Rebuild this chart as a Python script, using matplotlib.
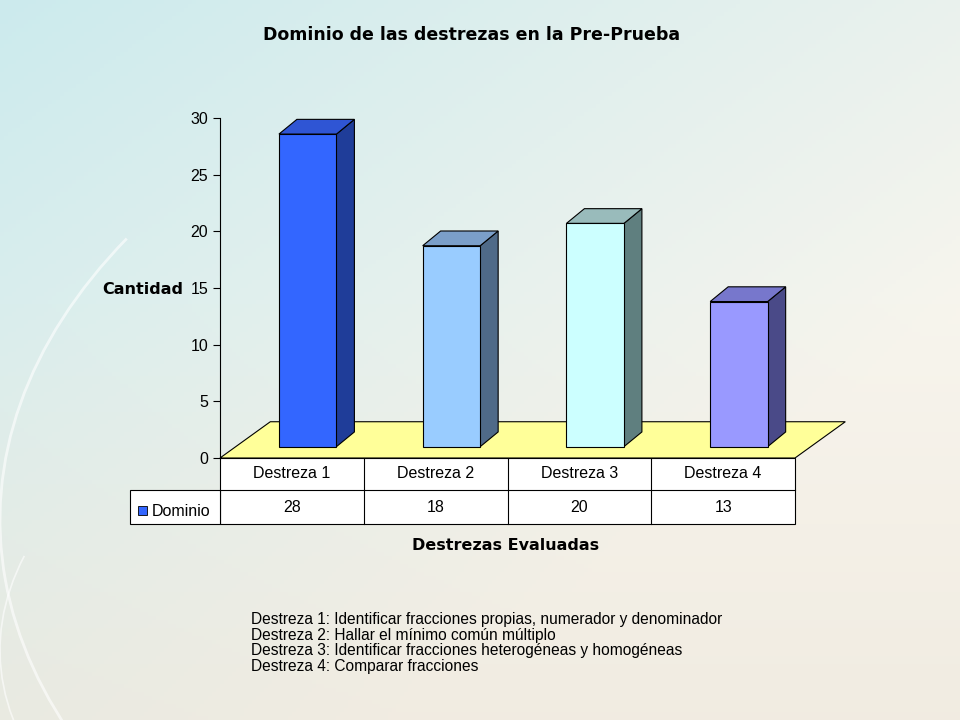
import numpy as np
import matplotlib
matplotlib.use("Agg")
import matplotlib.pyplot as plt
from matplotlib.patches import Polygon, Rectangle, Arc

plt.rcParams["font.family"] = "Liberation Sans"

title = "Dominio de las destrezas en la Pre-Prueba"
categories = ["Destreza 1", "Destreza 2", "Destreza 3", "Destreza 4"]
values = [28, 18, 20, 13]
series_name = "Dominio"
y_ticks = [0, 5, 10, 15, 20, 25, 30]
y_label = "Cantidad"
x_label = "Destrezas Evaluadas"
notes = ["Destreza 1: Identificar fracciones propias, numerador y denominador",
         "Destreza 2: Hallar el mínimo común múltiplo",
         "Destreza 3: Identificar fracciones heterogéneas y homogéneas",
         "Destreza 4: Comparar fracciones"]
front_c = ["#3366FF", "#99CCFF", "#CCFFFF", "#9999FF"]
side_c = ["#1F3D99", "#4F6A88", "#5F7F7F", "#4A4A88"]
top_c = ["#2F55D4", "#7B9FC9", "#99BBBB", "#7777CC"]

fig = plt.figure(figsize=(9.6, 7.2), dpi=100)
bg = fig.add_axes([0, 0, 1, 1])
bg.set_xlim(0, 960); bg.set_ylim(720, 0); bg.axis("off")
yy, xx = np.mgrid[0:720:180j, 0:960:240j]
t = np.clip(1 - (xx / 700 + yy / 500) / 2, 0, 1)
c1 = np.array([0.80, 0.92, 0.93]); c2 = np.array([0.97, 0.96, 0.93])
img = c2 + (c1 - c2) * t[..., None]
low = np.clip((yy - 300) / 420, 0, 1)[..., None]
img = img * (1 - 0.35 * low) + np.array([0.90, 0.86, 0.80]) * 0.35 * low
bg.imshow(img, extent=(0, 960, 720, 0), aspect="auto", zorder=0)
for (cx, cy, w, h, a1, a2, lw) in [(900, 520, 1800, 1100, 150, 200, 2.0),
                                     (1100, 650, 2200, 900, 150, 185, 1.2)]:
    bg.add_patch(Arc((cx, cy), w, h, theta1=a1, theta2=a2, color="white", lw=lw, alpha=0.6))

ax = fig.add_axes([220/960, (720-458)/720, 575/960, 340/720])
ax.set_xlim(0, 4); ax.set_ylim(0, 30)
ax.patch.set_alpha(0)
for s in ["top", "right", "bottom"]:
    ax.spines[s].set_visible(False)
ax.set_xticks([])
ax.set_yticks(y_ticks)
ax.tick_params(axis="y", labelsize=11.5, length=5, direction="out")

fdx, fdy = 0.35, 3.2
ax.add_patch(Polygon([(0, 0), (4, 0), (4 + fdx, fdy), (fdx, fdy)], closed=True,
                     fc="#FFFF99", ec="black", lw=0.8, clip_on=False, zorder=1))
bdx, bdy = 0.125, 1.3
base = 1.0
for i, v in enumerate(values):
    x0, x1 = i + 0.41, i + 0.81
    y0, y1 = base, base + v * 0.985
    ax.add_patch(Polygon([(x1, y0), (x1 + bdx, y0 + bdy), (x1 + bdx, y1 + bdy), (x1, y1)],
                         fc=side_c[i], ec="black", lw=0.8, clip_on=False, zorder=3))
    ax.add_patch(Polygon([(x0, y1), (x1, y1), (x1 + bdx, y1 + bdy), (x0 + bdx, y1 + bdy)],
                         fc=top_c[i], ec="black", lw=0.8, clip_on=False, zorder=3))
    ax.add_patch(Rectangle((x0, y0), x1 - x0, y1 - y0, fc=front_c[i], ec="black",
                           lw=0.8, clip_on=False, zorder=4))

colw = 575 / len(categories)
bg.add_patch(Rectangle((220, 458), 575, 66, fc="white", ec="black", lw=0.8, zorder=5))
bg.add_patch(Rectangle((130, 490), 90, 34, fc="white", ec="black", lw=0.8, zorder=5))
bg.plot([220, 795], [490, 490], color="black", lw=0.8, zorder=6)
for i, (c, v) in enumerate(zip(categories, values)):
    xl = 220 + i * colw
    if i > 0:
        bg.plot([xl, xl], [458, 524], color="black", lw=0.8, zorder=6)
    bg.text(xl + colw / 2, 474, c, ha="center", va="center", fontsize=11.5, zorder=7)
    bg.text(xl + colw / 2, 508, str(v), ha="center", va="center", fontsize=11.5, zorder=7)
bg.add_patch(Rectangle((138, 506), 9, 9, fc=front_c[0], ec="black", lw=0.6, zorder=7))
bg.text(152, 511, series_name, ha="left", va="center", fontsize=11.5, zorder=7)

bold = dict(fontweight="bold", family="DejaVu Sans")
bg.text(472, 35, title, ha="center", va="center", fontsize=12.5, **bold)
bg.text(143, 289, y_label, ha="center", va="center", fontsize=11.5, **bold)
bg.text(506, 545, x_label, ha="center", va="center", fontsize=11.5, **bold)
bg.text(251, 612, "\n".join(notes), ha="left", va="top", fontsize=11.2,
        linespacing=1.05)

fig.savefig("out.png", dpi=100)
